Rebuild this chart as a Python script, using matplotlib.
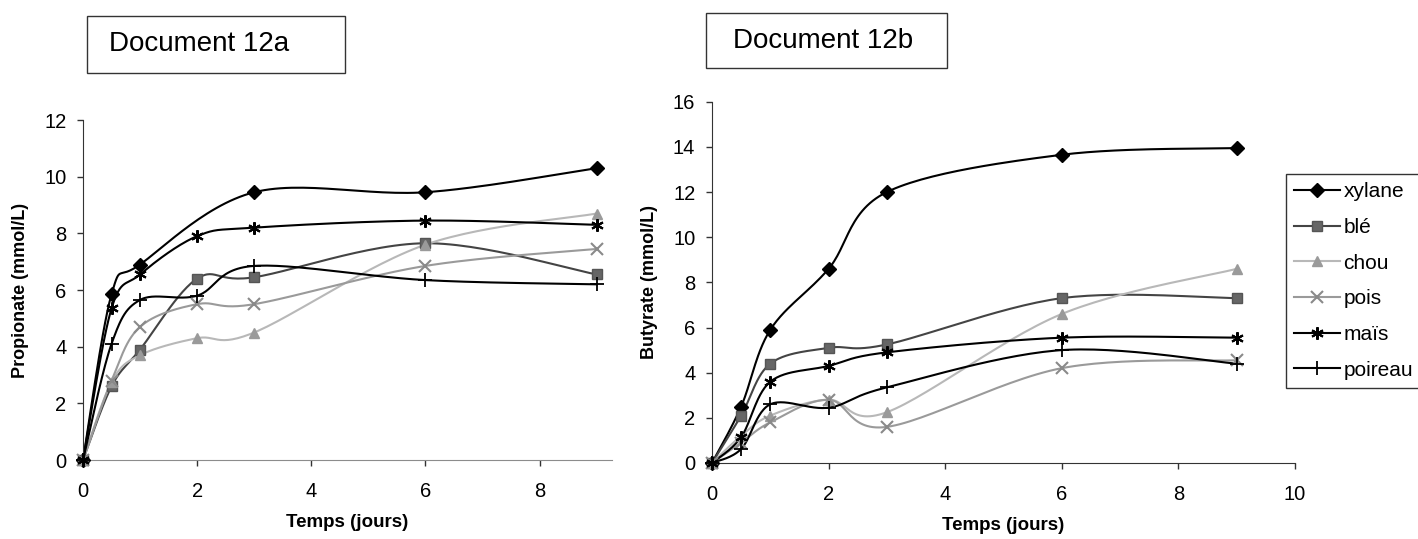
import numpy as np
import matplotlib
matplotlib.use('Agg')
import matplotlib.pyplot as plt
from matplotlib.lines import Line2D
from matplotlib.patches import Rectangle

plt.rcParams['font.family'] = ['Liberation Sans', 'DejaVu Sans']

# jours de mesure
jours = [0, 0.5, 1, 2, 3, 6, 9]
jours_xylane_a = [0, 0.5, 1, 3, 6, 9]   # pas de point a J2 pour le xylane (doc 12a)

# Document 12a : propionate (mmol/L)
prop_xylane = [0, 5.85, 6.9, 9.45, 9.45, 10.3]
prop_ble = [0, 2.6, 3.9, 6.4, 6.45, 7.65, 6.55]
prop_chou = [0, 2.75, 3.7, 4.3, 4.5, 7.6, 8.7]
prop_pois = [0, 2.8, 4.7, 5.5, 5.5, 6.85, 7.45]
prop_mais = [0, 5.35, 6.55, 7.9, 8.2, 8.45, 8.3]
prop_poireau = [0, 4.1, 5.65, 5.8, 6.85, 6.35, 6.2]

# Document 12b : butyrate (mmol/L)
but_xylane = [0, 2.5, 5.9, 8.6, 12.0, 13.65, 13.95]
but_ble = [0, 2.1, 4.4, 5.1, 5.25, 7.3, 7.3]
but_chou = [0, 1.2, 2.1, 2.8, 2.25, 6.6, 8.6]
but_pois = [0, 0.9, 1.8, 2.8, 1.6, 4.2, 4.55]
but_mais = [0, 1.15, 3.6, 4.3, 4.9, 5.55, 5.55]
but_poireau = [0, 0.62, 2.6, 2.45, 3.35, 5.0, 4.4]

noms = ['xylane', 'blé', 'chou', 'pois', 'maïs', 'poireau']
styles = {
    'xylane': dict(color='black', marker='D', ms=7, mfc='black', mec='black', mew=1),
    'blé': dict(color='#444444', marker='s', ms=6.5, mfc='#666666', mec='#555555', mew=1),
    'chou': dict(color='#b8b8b8', marker='^', ms=7.5, mfc='#9a9a9a', mec='#9a9a9a', mew=1),
    'pois': dict(color='#9a9a9a', marker='x', ms=8, mfc='#8a8a8a', mec='#8a8a8a', mew=1.5),
    'maïs': dict(color='black', marker=(6, 2, 0), ms=9, mfc='black', mec='black', mew=1.5),
    'poireau': dict(color='black', marker='+', ms=10, mfc='black', mec='black', mew=1.3),
}


def lisse(xs, ys, sx, sy, n=30):
    # courbe lissee facon Excel (Bezier / Catmull-Rom) calculee en pixels
    p = np.column_stack([np.asarray(xs, float) * sx, np.asarray(ys, float) * sy])
    ext = np.vstack([p[0], p, p[-1]])
    out = []
    for i in range(len(p) - 1):
        p0, p1, p2, p3 = ext[i], ext[i + 1], ext[i + 2], ext[i + 3]
        c1 = p1 + (p2 - p0) / 6
        c2 = p2 - (p3 - p1) / 6
        t = np.linspace(0, 1, n)[:, None]
        seg = (1 - t) ** 3 * p1 + 3 * (1 - t) ** 2 * t * c1 + 3 * (1 - t) * t ** 2 * c2 + t ** 3 * p2
        out.append(seg if i == 0 else seg[1:])
    c = np.vstack(out)
    return c[:, 0] / sx, c[:, 1] / sy


W, H = 1418, 539
fig = plt.figure(figsize=(W / 100, H / 100), dpi=100)


def axes_px(x0, x1, ytop, ybot):
    return fig.add_axes([x0 / W, 1 - ybot / H, (x1 - x0) / W, (ybot - ytop) / H])


def trace(ax, series, xmax, ymax, xticks, yticks, ylabel, xaxe_col):
    bb = ax.get_position()
    sx = bb.width * W / xmax
    sy = bb.height * H / ymax
    for nom, (xs, ys) in zip(noms, series):
        st = styles[nom]
        lx, ly = lisse(xs, ys, sx, sy)
        ax.plot(lx, ly, color=st['color'], lw=1.5, zorder=2, clip_on=False)
        ax.plot(xs, ys, ls='none', marker=st['marker'], ms=st['ms'], mfc=st['mfc'],
                mec=st['mec'], mew=st['mew'], zorder=3, clip_on=False)
    ax.set_xlim(0, xmax)
    ax.set_ylim(0, ymax)
    ax.set_xticks(xticks)
    ax.set_yticks(yticks)
    for s in ['top', 'right']:
        ax.spines[s].set_visible(False)
    ax.spines['left'].set_color('#333333')
    ax.spines['bottom'].set_color(xaxe_col)
    ax.tick_params(axis='both', labelsize=14.5, length=4, color='#333333', width=1)
    ax.tick_params(axis='x', pad=12)
    ax.tick_params(axis='y', pad=8)
    ax.set_xlabel('Temps (jours)', fontsize=13.5, fontweight='bold', labelpad=9)
    ax.set_ylabel(ylabel, fontsize=13, fontweight='bold', labelpad=11)


ax1 = axes_px(83, 612, 120, 460)
trace(ax1,
      [(jours_xylane_a, prop_xylane), (jours, prop_ble), (jours, prop_chou),
       (jours, prop_pois), (jours, prop_mais), (jours, prop_poireau)],
      9.27, 12, [0, 2, 4, 6, 8], [0, 2, 4, 6, 8, 10, 12], 'Propionate (mmol/L)', '#8c8c8c')

ax2 = axes_px(712, 1295, 101.7, 463)
trace(ax2,
      [(jours, but_xylane), (jours, but_ble), (jours, but_chou),
       (jours, but_pois), (jours, but_mais), (jours, but_poireau)],
      10, 16, [0, 2, 4, 6, 8, 10], [0, 2, 4, 6, 8, 10, 12, 14, 16], 'Butyrate (mmol/L)', '#333333')

handles = []
for nom in noms:
    st = styles[nom]
    handles.append(Line2D([], [], color=st['color'], lw=1.5, marker=st['marker'], ms=st['ms'],
                          mfc=st['mfc'], mec=st['mec'], mew=st['mew']))
leg = fig.legend(handles, noms, loc='upper left', bbox_to_anchor=(1286 / W, 1 - 174 / H),
                 fontsize=15, frameon=True, fancybox=False, edgecolor='black',
                 handlelength=2.2, handletextpad=0.15, labelspacing=0.8,
                 borderpad=0.4, borderaxespad=0)
leg.get_frame().set_linewidth(1)

# cadres "Document 12a / 12b"
for (x0, x1, y0, y1, tx, txt) in [(87, 345, 16, 73, 109, 'Document 12a'),
                                   (706, 947, 13, 68, 733, 'Document 12b')]:
    fig.patches.append(Rectangle((x0 / W, 1 - y1 / H), (x1 - x0) / W, (y1 - y0) / H,
                                 transform=fig.transFigure, fill=False,
                                 edgecolor='#333333', lw=1))
    fig.text(tx / W, 1 - (y0 + y1) / 2 / H, txt, fontsize=20, va='center', ha='left')

fig.savefig('out.png', dpi=100)
